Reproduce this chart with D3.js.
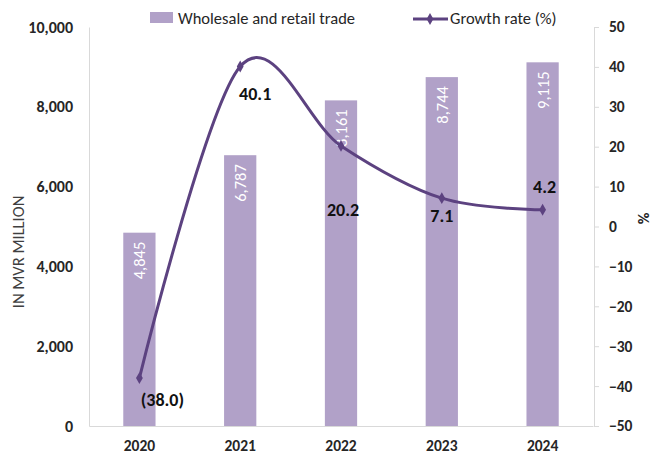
<!DOCTYPE html>
<html>
<head>
<meta charset="utf-8">
<script src="https://cdn.jsdelivr.net/npm/d3@7"></script>
<style>
  body { margin: 0; background: #fff; }
  svg text { font-family: Calibri, Carlito, Lato, sans-serif; }
</style>
</head>
<body>
<div id="chart"></div>
<script>
'use strict';
// data
var years = ["2020", "2021", "2022", "2023", "2024"];
var tradeValues = [4845, 6787, 8161, 8744, 9115];
var growthRates = [-38.0, 40.1, 20.2, 7.1, 4.2];
var growthLabels = ["(38.0)", "40.1", "20.2", "7.1", "4.2"];
var leftTicks = [0, 2000, 4000, 6000, 8000, 10000];
var rightTicks = [-50, -40, -30, -20, -10, 0, 10, 20, 30, 40, 50];
// manual nudges of the growth labels (dx, dy in px), as placed in the original
var growthLabelNudge = [[23, 22], [15, 27], [2, 64], [0, 18], [2, -23]];

var W = 654, H = 454;
var margin = {top: 27, right: 60, bottom: 28, left: 89};
var barColor = "#b1a1c8", lineColor = "#5c4280", axisColor = "#d9d9d9";

var svg = d3.select("#chart").append("svg")
	.attr("width", W).attr("height", H);

var x = d3.scaleBand().domain(years)
	.range([margin.left, W - margin.right - 1])
	.paddingInner(0.68).paddingOuter(0.34);
var yL = d3.scaleLinear().domain([0, 10000]).range([H - margin.bottom, margin.top]);
var yR = d3.scaleLinear().domain([-50, 50]).range([H - margin.bottom, margin.top]);

// bars
svg.append("g").selectAll("rect")
	.data(tradeValues).join("rect")
		.attr("x", function(d, i){ return x(years[i]); })
		.attr("y", function(d){ return yL(d); })
		.attr("width", x.bandwidth())
		.attr("height", function(d){ return yL(0) - yL(d); })
		.attr("fill", barColor);

// bar value labels, rotated inside the top of bar
svg.append("g").selectAll("text")
	.data(tradeValues).join("text")
		.attr("transform", function(d, i){
			return "translate(" + (x(years[i]) + x.bandwidth() / 2 + 6) + "," + (yL(d) + 9) + ") rotate(-90)";
		})
		.attr("text-anchor", "end")
		.attr("fill", "#fff")
		.style("font-size", "16.5px")
		.text(d3.format(","));

// left axis
var gL = svg.append("g").attr("transform", "translate(" + margin.left + ",0)")
	.call(d3.axisLeft(yL).tickValues(leftTicks).tickSize(0).tickPadding(16).tickFormat(d3.format(",")));
gL.select(".domain").attr("stroke", axisColor);
gL.selectAll("text").style("font-size", "16px").style("font-weight", "bold").attr("fill", "#262626");

// right axis
var gR = svg.append("g").attr("transform", "translate(" + (W - margin.right) + ",0)")
	.call(d3.axisRight(yR).tickValues(rightTicks).tickSize(5).tickPadding(10));
gR.select(".domain").attr("stroke", axisColor);
gR.selectAll(".tick line").attr("stroke", axisColor);
gR.selectAll("text").style("font-size", "15.5px").style("font-weight", "bold").attr("fill", "#262626");

// baseline + year labels
var gX = svg.append("g").attr("transform", "translate(0," + yL(0) + ")")
	.call(d3.axisBottom(x).tickSize(0).tickPadding(14));
gX.select(".domain").attr("stroke", axisColor);
gX.selectAll("text").style("font-size", "15.5px").style("font-weight", "bold").attr("fill", "#262626");

// axis titles
svg.append("text")
	.attr("transform", "translate(24,252) rotate(-90)")
	.attr("text-anchor", "middle").attr("fill", "#404040")
	.style("font-size", "16.5px").text("IN MVR MILLION");
svg.append("text")
	.attr("transform", "translate(649," + yR(2) + ") rotate(-90)")
	.attr("text-anchor", "middle").attr("fill", "#262626")
	.style("font-size", "16px").style("font-weight", "bold").text("%");

// growth line, smoothed like the original
var cx = function(i){ return x(years[i]) + x.bandwidth() / 2; };
var line = d3.line()
	.x(function(d, i){ return cx(i); })
	.y(function(d){ return yR(d); })
	.curve(d3.curveCardinal.tension(0));
svg.append("path").datum(growthRates)
	.attr("d", line)
	.attr("fill", "none").attr("stroke", lineColor).attr("stroke-width", 3)
	.attr("stroke-linecap", "round");

var diamond = d3.symbol().type(d3.symbolDiamond).size(40);
svg.append("g").selectAll("path")
	.data(growthRates).join("path")
		.attr("d", diamond)
		.attr("transform", function(d, i){ return "translate(" + cx(i) + "," + yR(d) + ")"; })
		.attr("fill", lineColor);

svg.append("g").selectAll("text")
	.data(growthRates).join("text")
		.attr("x", function(d, i){ return cx(i) + growthLabelNudge[i][0]; })
		.attr("y", function(d, i){ return yR(d) + growthLabelNudge[i][1]; })
		.attr("dy", "0.35em")
		.attr("text-anchor", "middle")
		.attr("fill", "#111")
		.style("font-size", "18px").style("font-weight", "bold")
		.text(function(d, i){ return growthLabels[i]; });

// legend
var leg = svg.append("g");
leg.append("rect").attr("x", 150).attr("y", 12).attr("width", 23).attr("height", 11).attr("fill", barColor);
leg.append("text").attr("x", 178).attr("y", 24).attr("fill", "#262626")
	.style("font-size", "16.5px").text("Wholesale and retail trade");
leg.append("line").attr("x1", 413).attr("x2", 448).attr("y1", 19).attr("y2", 19)
	.attr("stroke", lineColor).attr("stroke-width", 3);
leg.append("path").attr("d", diamond).attr("transform", "translate(430,19)").attr("fill", lineColor);
leg.append("text").attr("x", 450).attr("y", 24).attr("fill", "#262626")
	.style("font-size", "16.5px").text("Growth rate (%)");
</script>
</body>
</html>
